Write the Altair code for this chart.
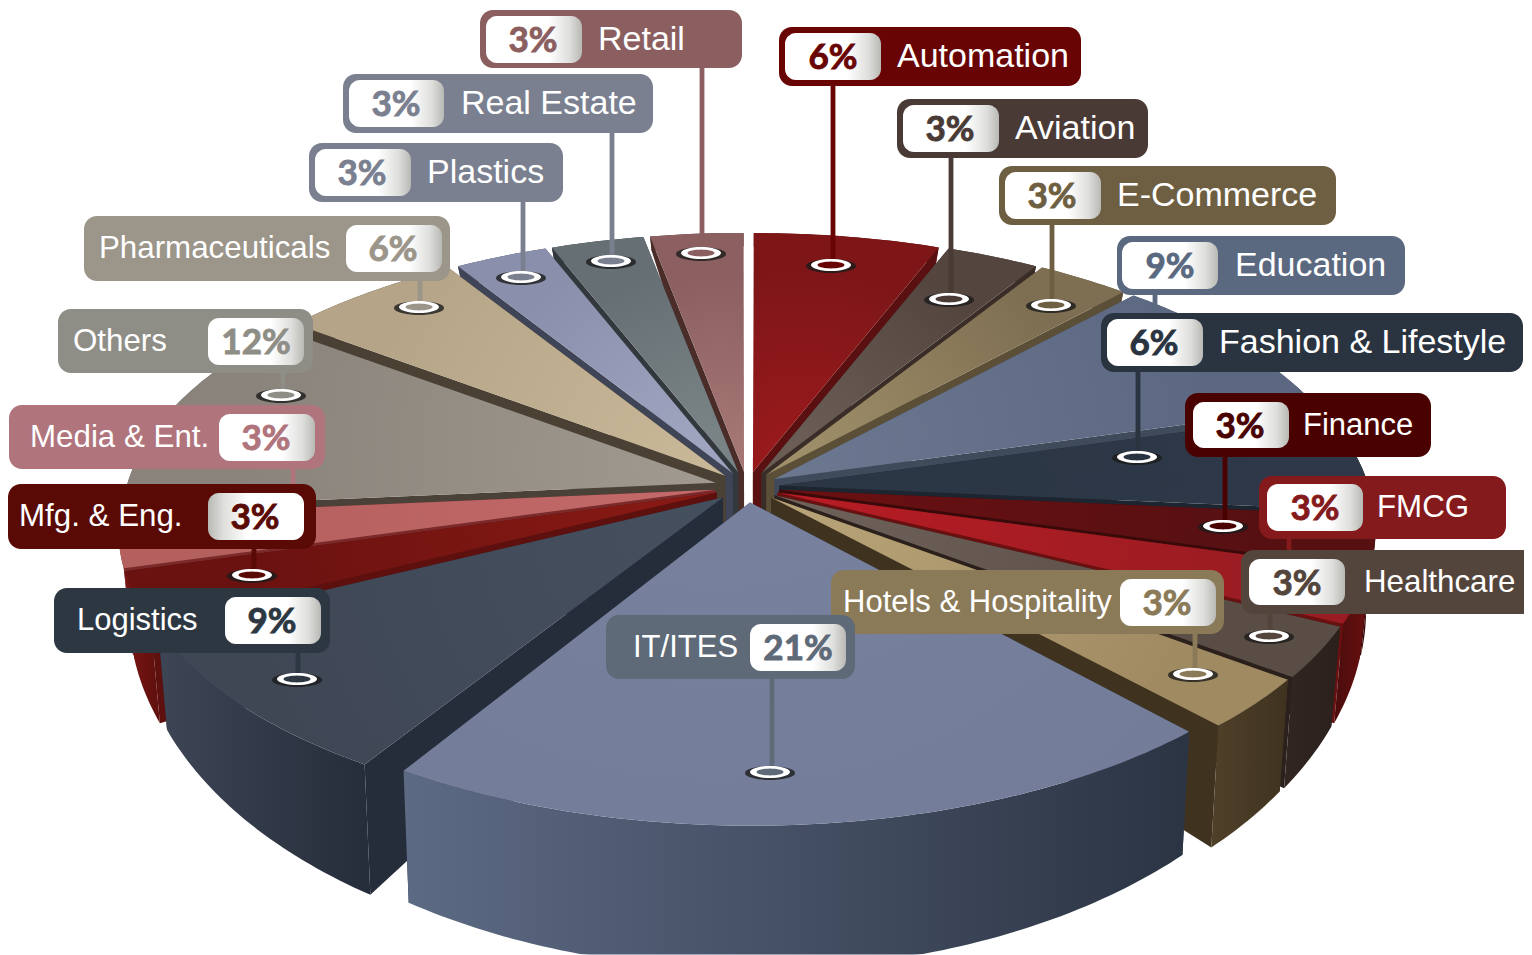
import math
import altair as alt
import pandas as pd

W, H = 1524, 955
MARGIN = 8

names = ["Automation", "Aviation", "E-Commerce", "Education", "Fashion & Lifestyle", "Finance", "FMCG",
         "Healthcare", "Hotels & Hospitality", "IT/ITES", "Logistics", "Mfg. & Eng.", "Media & Ent.",
         "Others", "Pharmaceuticals", "Plastics", "Real Estate", "Retail"]
values = [6, 3, 3, 9, 6, 3, 3, 3, 3, 21, 9, 3, 3, 12, 6, 3, 3, 3]
top_inner = ["#9c1a1c", "#6c5f58", "#a0906a", "#6c7890", "#2a3644", "#6a1012", "#b81c24", "#6e625a", "#b8a478",
             "#7a84a0", "#45505e", "#8a1a14", "#c46a6a", "#a09a90", "#c8b898", "#a0a6c0", "#7c8688", "#a87a78"]
top_outer = ["#7e1618", "#54463f", "#7f6f52", "#5c6882", "#2e3848", "#571012", "#9a1c22", "#5a4d45", "#a08a62",
             "#737d9a", "#3f4755", "#6a1210", "#b4605e", "#8a837b", "#b5a487", "#8a90ac", "#667074", "#8c6060"]
wall_left = ["#5a1010", "#3a2d28", "#5c4f38", "#3f4a5a", "#1d2530", "#3a0a0a", "#4a0c0c", "#332622", "#4f4029",
             "#5d6a84", "#3e4656", "#7a1512", "#7a2a2a", "#4a4238", "#4a4034", "#3f4456", "#33383c", "#4a2c28"]
wall_right = ["#5a1010", "#3a2d28", "#5c4f38", "#3f4a5a", "#1d2530", "#3a0a0a", "#6a1010", "#2b201c", "#3f3320",
              "#2b3443", "#252d3a", "#5e100e", "#7a2a2a", "#4a4238", "#4a4034", "#3f4456", "#33383c", "#4a2c28"]
pill_colors = ["#690404", "#4a3a36", "#6f5f42", "#5a6880", "#2a3340", "#4a0200", "#851a1c", "#54453c", "#8b7a58",
               "#5e6a78", "#2d3742", "#5a0a05", "#b0747c", "#8e8e86", "#9b958a", "#7a8090", "#7a8090", "#8b5f5f"]

# Layout of the callouts: pill box, white box, text anchors, stem and pin
#  x0, x1, y0, y1, ix0, ix1, iy0, iy1, pct_x, label_x, font, stem_x, stem_y2, pin_x, pin_y
layout = [
    (779, 1081, 27, 86, 785, 881, 33, 80, 833, 897, 34, 833, 262, 831, 265),
    (897, 1148, 99, 158, 903, 999, 105, 152, 950, 1015, 34, 951, 296, 949, 299),
    (999, 1336, 166, 225, 1005, 1101, 172, 219, 1052, 1117, 34, 1052, 302, 1051, 305),
    (1117, 1405, 236, 295, 1122, 1218, 242, 289, 1170, 1235, 34, 1155, 320, None, None),
    (1101, 1523, 313, 372, 1107, 1203, 319, 366, 1154, 1219, 34, 1138, 454, 1137, 457),
    (1185, 1431, 393, 457, 1193, 1289, 402, 448, 1240, 1303, 31, 1225, 523, 1223, 526),
    (1259, 1506, 476, 539, 1267, 1363, 484, 531, 1315, 1377, 31.3, 1289, 555, None, None),
    (1241, 1540, 550, 614, 1249, 1345, 559, 605, 1297, 1364, 31.3, 1270, 633, 1269, 636),
    (831, 1224, 570, 634, 1120, 1216, 579, 626, 1167, 843, 31, 1195, 671, 1193, 674),
    (606, 855, 615, 679, 750, 846, 624, 671, 798, 633, 31, 772, 769, 770, 772),
    (54, 330, 588, 653, 225, 321, 597, 644, 272, 77, 31, 298, 676, 297, 679),
    (8, 316, 484, 549, 208, 304, 493, 540, 255, 19, 31.3, 254, 572, 252, 575),
    (9, 325, 405, 469, 219, 315, 414, 461, 266, 30, 31.3, 293, 490, None, None),
    (58, 313, 309, 373, 208, 304, 318, 365, 256, 73, 31.3, 283, 392, 281, 395),
    (84, 450, 216, 281, 346, 442, 225, 272, 393, 99, 31.3, 420, 304, 419, 307),
    (309, 563, 143, 202, 315, 411, 149, 196, 362, 427, 34, 523, 274, 521, 277),
    (343, 653, 74, 133, 349, 444, 80, 127, 396, 461, 34, 612, 258, 611, 261),
    (480, 742, 10, 68, 486, 582, 16, 63, 533, 598, 34, 702, 250, 701, 253),
]
reversed_white = {"Mfg. & Eng."}

# Perspective view of the disc
CX, CY, R, RY, K, EXPLODE, SIDE_SPREAD = 747.0, 487.0, 580.0, 275.0, 0.135, 0.056, 1.3


def project(u, v):
    w = 1 + K * v
    return [CX + R * u / w, CY - RY * v / w]


def drop(p):
    h = 70 + 0.22 * (p[1] - 490)
    return [CX + (p[0] - CX) * 0.985, min(p[1] + h, H - 0.5)]


def feature(points, fill=None):
    ring = points + [points[0]]
    return {"type": "Feature", "properties": {"fill": fill},
            "geometry": {"type": "Polygon", "coordinates": [ring]}}


def ellipse(cx, cy, rx, ry, fill):
    pts = [[cx + rx * math.cos(a * math.pi / 18), cy + ry * math.sin(a * math.pi / 18)] for a in range(36)]
    return feature(pts, fill)


PROJ = dict(type="identity", scale=1, translate=[-MARGIN, -MARGIN])
total = sum(values)
slices = []
cum = 0.0
for i, v in enumerate(values):
    a0 = cum / total * 2 * math.pi
    cum += v
    a1 = cum / total * 2 * math.pi
    m = (a0 + a1) / 2
    du, dv = EXPLODE * math.sin(m), EXPLODE * math.cos(m)
    n = max(6, int(v * 4))
    arc = [project(math.sin(a0 + (a1 - a0) * k / n) + du * SIDE_SPREAD, math.cos(a0 + (a1 - a0) * k / n) + dv)
           for k in range(n + 1)]
    apex = project(du, dv)
    slices.append((math.cos(m), i, apex, arc))

geo_layers = []
for _, i, apex, arc in sorted(slices, key=lambda s: -s[0]):
    walls = [
        feature([apex, arc[0], drop(arc[0]), drop(apex)], wall_right[i]),
        feature([apex, arc[-1], drop(arc[-1]), drop(apex)], wall_right[i]),
    ]
    geo_layers.append(
        alt.Chart(alt.InlineData(values=walls)).mark_geoshape(stroke=None)
        .encode(fill=alt.Fill("properties.fill:N", scale=None)).project(**PROJ)
    )
    outer = arc + [drop(p) for p in reversed(arc)]
    geo_layers.append(
        alt.Chart(alt.InlineData(values=[feature(outer)])).mark_geoshape(
            stroke=None,
            fill=alt.Gradient(gradient="linear", x1=0, x2=1, y1=0, y2=0,
                              stops=[alt.GradientStop(offset=0, color=wall_left[i]),
                                     alt.GradientStop(offset=1, color=wall_right[i])])
        ).project(**PROJ)
    )
    dir_x = (arc[len(arc) // 2][0] - apex[0])
    dir_y = (arc[len(arc) // 2][1] - apex[1])
    norm = math.hypot(dir_x, dir_y)
    geo_layers.append(
        alt.Chart(alt.InlineData(values=[feature([apex] + arc)])).mark_geoshape(
            stroke=None,
            fill=alt.Gradient(gradient="radial", x1=0.5 - dir_x / norm * 0.5, y1=0.5 - dir_y / norm * 0.5, r1=0,
                              x2=0.5 - dir_x / norm * 0.5, y2=0.5 - dir_y / norm * 0.5, r2=0.8,
                              stops=[alt.GradientStop(offset=0, color=top_inner[i]),
                                     alt.GradientStop(offset=1, color=top_outer[i])])
        ).project(**PROJ)
    )

rows = []
for i, (nm, v, col, L) in enumerate(zip(names, values, pill_colors, layout)):
    rows.append(dict(name=nm, pct=f"{v}%", color=col, x0=L[0], x1=L[1], y0=L[2], y1=L[3],
                     ix0=L[4], ix1=L[5], iy0=L[6], iy1=L[7], pct_x=L[8], label_x=L[9], fs=L[10],
                     stem_x=L[11], stem_y2=L[12], ym=(L[6] + L[7]) / 2))
df = pd.DataFrame(rows)

xs = alt.Scale(domain=[MARGIN, W], nice=False, zero=False)
ys = alt.Scale(domain=[H, MARGIN], nice=False, zero=False)
X = lambda f: alt.X(f, type="quantitative", scale=xs, axis=None)
Y = lambda f: alt.Y(f, type="quantitative", scale=ys, axis=None)

stems = alt.Chart(df).mark_rule(strokeWidth=4.8).encode(
    x=X("stem_x"), y=Y("y1"), y2="stem_y2", color=alt.Color("color:N", scale=None))

shadows, rings, holes = [], [], []
for i, L in enumerate(layout):
    if L[13] is None:
        continue
    shadows.append(ellipse(L[13], L[14] + 1, 25, 7, "#1c1c1c"))
    rings.append(ellipse(L[13], L[14], 20, 6, "#ffffff"))
    holes.append(ellipse(L[13], L[14], 13.5, 3.4, pill_colors[i]))
pins = [
    alt.Chart(alt.InlineData(values=shadows)).mark_geoshape(stroke=None, opacity=0.8)
    .encode(fill=alt.Fill("properties.fill:N", scale=None)).project(**PROJ),
    alt.Chart(alt.InlineData(values=rings)).mark_geoshape(stroke=None)
    .encode(fill=alt.Fill("properties.fill:N", scale=None)).project(**PROJ),
    alt.Chart(alt.InlineData(values=holes)).mark_geoshape(stroke=None)
    .encode(fill=alt.Fill("properties.fill:N", scale=None)).project(**PROJ),
]

boxes = alt.Chart(df).mark_rect(cornerRadius=13, clip=True).encode(
    x=X("x0"), x2="x1", y=Y("y0"), y2="y1", color=alt.Color("color:N", scale=None))


def white_box(data, stops):
    return alt.Chart(data).mark_rect(
        cornerRadius=11,
        fill=alt.Gradient(gradient="linear", x1=0, x2=1, y1=0, y2=0,
                          stops=[alt.GradientStop(offset=o, color=c) for o, c in stops])
    ).encode(x=X("ix0"), x2="ix1", y=Y("iy0"), y2="iy1")


norm_df = df[~df["name"].isin(reversed_white)]
rev_df = df[df["name"].isin(reversed_white)]
white_norm = white_box(norm_df, [(0, "#ffffff"), (0.65, "#ffffff"), (0.87, "#dededc"), (1, "#b8b8b4")])
white_rev = white_box(rev_df, [(0, "#b8b8b4"), (0.16, "#dededc"), (0.42, "#ffffff"), (1, "#ffffff")])

labels = alt.Chart(df).mark_text(align="left", baseline="middle", dy=0.5, font="Liberation Sans",
                                 color="#ffffff").encode(
    x=X("label_x"), y=Y("ym"), text="name:N", size=alt.Size("fs:Q", scale=None))
pcts = alt.Chart(df).mark_text(align="center", baseline="middle", dy=1.5, font="Lato", fontWeight=700, fontSize=35,
                               strokeWidth=0.9).encode(
    x=X("pct_x"), y=Y("ym"), text="pct:N", color=alt.Color("color:N", scale=None),
    stroke=alt.Stroke("color:N", scale=None))

chart = alt.layer(*geo_layers, stems, *pins, boxes, white_norm, white_rev, labels, pcts).properties(
    width=W - MARGIN, height=H - MARGIN, padding=0, background="#ffffff"
).configure_view(stroke=None)

chart.save("out.html", embed_options={"renderer": "svg", "actions": False})
